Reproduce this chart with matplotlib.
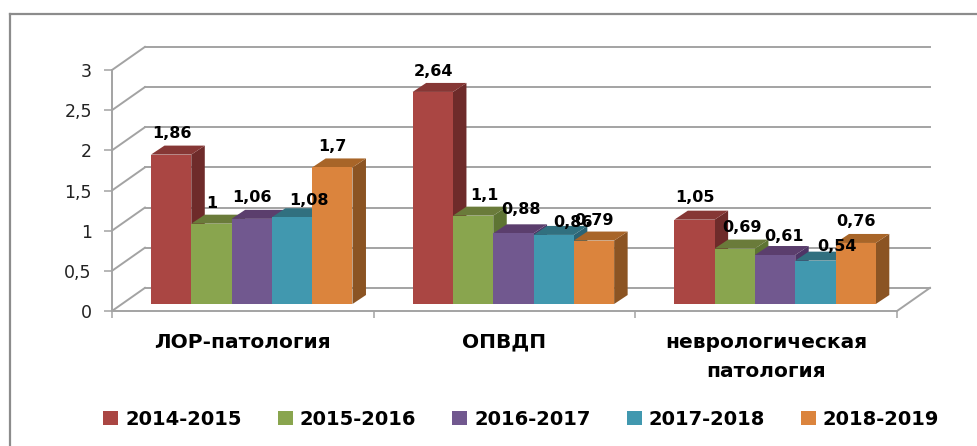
import matplotlib
matplotlib.use('Agg')
import matplotlib.pyplot as plt
from matplotlib.lines import Line2D
from matplotlib.patches import Patch, Polygon

categories = ['ЛОР-патология', 'ОПВДП', 'неврологическая\nпатология']
years = ['2014-2015', '2015-2016', '2016-2017', '2017-2018', '2018-2019']
values_2014 = [1.86, 2.64, 1.05]
values_2015 = [1.0, 1.1, 0.69]
values_2016 = [1.06, 0.88, 0.61]
values_2017 = [1.08, 0.86, 0.54]
values_2018 = [1.7, 0.79, 0.76]
series = [values_2014, values_2015, values_2016, values_2017, values_2018]
y_ticks = [0, 0.5, 1, 1.5, 2, 2.5, 3]
y_labels = ['0', '0,5', '1', '1,5', '2', '2,5', '3']

# front, top and side colours of the bars
front = ['#AA4643', '#89A54E', '#71588F', '#4198AF', '#DB843D']
top = ['#863735', '#6A7B3A', '#5B3E6D', '#31707F', '#A86528']
side = ['#6E2B2A', '#5E7433', '#4E3566', '#2B6475', '#8B5423']
grid_color = '#a3a3a3'

# label nudges in pixels, one row per series
shift_x = [[1, 1, 0], [0, 11, 7], [0, 8, 9], [17, 19, 22], [0, 0, 0]]
shift_y = [[0, -1, 1], [-1, -1, 0], [0, 3, -2], [-4, -9, -7], [0, -1, 0]]

# fake 3d: offsets in data units
wall_dx, wall_dy = 0.126, 0.288
bar_dx, bar_dy = 0.0516, 0.112
bar_w = 0.154
start = 0.149
base = 0.087

fig = plt.figure(figsize=(9.78, 4.46), dpi=100)
ax = fig.add_axes([112 / 978, 135 / 446, 785 / 978, 241 / 446])
ax.set_xlim(0, 3)
ax.set_ylim(0, 3)
ax.patch.set_visible(False)

# walls and floor
for v in y_ticks:
    ax.plot([0, wall_dx], [v, v + wall_dy], color=grid_color, lw=1.4, clip_on=False, zorder=1)
    ax.plot([wall_dx, 3 + wall_dx], [v + wall_dy, v + wall_dy], color=grid_color, lw=1.4, clip_on=False, zorder=1)
ax.plot([3, 3 + wall_dx], [0, wall_dy], color=grid_color, lw=1.4, clip_on=False, zorder=1)

for j, vals in enumerate(series):
    xs = [i + start + j * bar_w for i in range(len(categories))]
    for x, v in zip(xs, vals):
        y = base + v
        ax.add_patch(Polygon([(x + bar_w, base), (x + bar_w + bar_dx, base + bar_dy),
                              (x + bar_w + bar_dx, y + bar_dy), (x + bar_w, y)],
                             facecolor=side[j], edgecolor='none', clip_on=False, zorder=2 + j))
        ax.add_patch(Polygon([(x, y), (x + bar_dx, y + bar_dy),
                              (x + bar_w + bar_dx, y + bar_dy), (x + bar_w, y)],
                             facecolor=top[j], edgecolor='none', clip_on=False, zorder=2 + j))
    ax.bar(xs, vals, width=bar_w, bottom=base, align='edge', color=front[j], zorder=2 + j, clip_on=False)

for j, vals in enumerate(series):
    for i, v in enumerate(vals):
        x = i + start + j * bar_w + bar_w / 2
        label = str(v).replace('.', ',').removesuffix(',0')
        ax.annotate(label, (x, base + v + bar_dy),
                    xytext=(shift_x[j][i] * 0.72, (12 + shift_y[j][i]) * 0.72),
                    textcoords='offset points', ha='center', va='center',
                    fontsize=11.5, fontweight='bold', color='black', zorder=20)

for s in ['top', 'right']:
    ax.spines[s].set_visible(False)
for s in ['left', 'bottom']:
    ax.spines[s].set_color(grid_color)
    ax.spines[s].set_linewidth(1.4)

ax.set_yticks(y_ticks)
ax.set_yticklabels(y_labels, fontsize=12.5, color='#222222')
ax.tick_params(axis='y', length=5.5, width=1.1, color=grid_color, pad=9)
ax.set_xticks([0.5, 1.5, 2.5])
ax.set_xticklabels(categories, fontsize=14.5, fontweight='bold', linespacing=1.7)
ax.set_xticks([0, 1, 2, 3], minor=True)
ax.tick_params(axis='x', which='major', length=0, pad=15.5)
ax.tick_params(axis='x', which='minor', length=5, width=1.1, color=grid_color)

handles = [Patch(facecolor=c, edgecolor='none') for c in front]
fig.legend(handles, years, loc='center', bbox_to_anchor=(0.533, 0.0605), ncol=5, frameon=False,
           prop={'size': 14, 'weight': 'bold'}, handlelength=0.77, handleheight=0.72,
           handletextpad=0.36, columnspacing=1.85)

# outer frame, only top and left are in the picture
frame = '#8c8c8c'
fig.add_artist(Line2D([9.5 / 978, 1], [1 - 14 / 446, 1 - 14 / 446], color=frame, lw=1.6))
fig.add_artist(Line2D([9.5 / 978, 9.5 / 978], [0, 1 - 14 / 446], color=frame, lw=1.6))

fig.savefig('out.png', dpi=100)
